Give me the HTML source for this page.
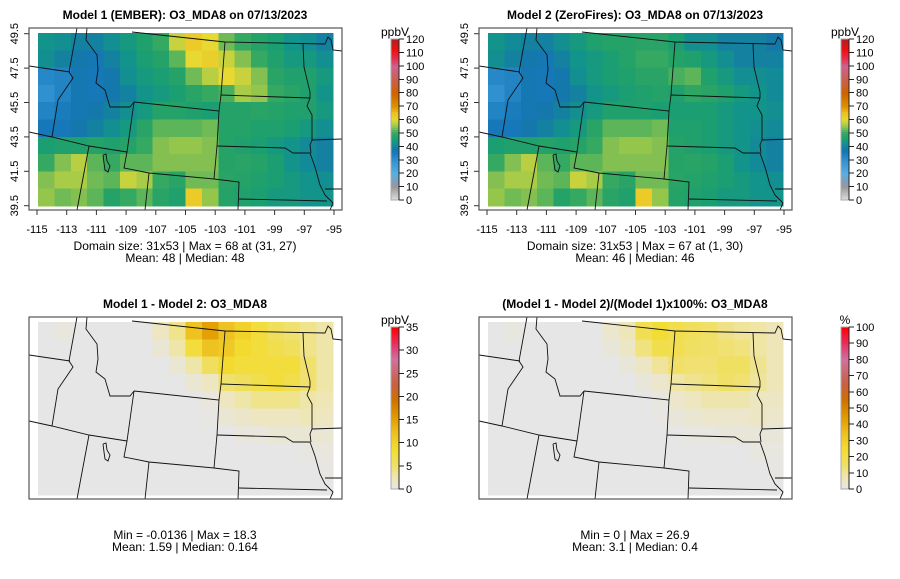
<!DOCTYPE html>
<html><head><meta charset="utf-8">
<style>
body{margin:0;background:#fff;}
svg{display:block;font-family:"Liberation Sans",Arial,sans-serif;}
.t{font-weight:bold;font-size:12px;text-anchor:middle;}
.lab{font-size:11px;}
.st{font-size:12px;text-anchor:middle;}
</style></head>
<body>
<svg id="fig" width="900" height="579" viewBox="0 0 900 579" xmlns="http://www.w3.org/2000/svg"></svg>
<script>
// ---- data (10 rows: lat 49.5 -> 39.5, 18 cols: lon -115 -> -95) ----
const lonTicks = [-115,-113,-111,-109,-107,-105,-103,-101,-99,-97,-95];
const latTicks = [49.5,47.5,45.5,43.5,41.5,39.5];
const ppbTicks = [0,10,20,30,40,50,60,70,80,90,100,110,120];
const diffTicks = [0,5,10,15,20,25,30,35];
const pctTicks = [0,10,20,30,40,50,60,70,80,90,100];
const model1 = [
[43,42,40,40,42,44,46,50,58,63,60,53,50,47,45,43,42,40],
[42,40,38,37,40,43,45,47,52,60,62,58,54,50,46,44,44,42],
[32,33,37,36,38,42,44,45,47,53,57,60,58,54,48,46,46,44],
[30,33,37,36,38,40,43,44,45,48,50,51,56,55,50,48,46,43],
[33,35,37,38,40,42,44,47,47,46,45,47,47,48,47,46,46,44],
[36,36,38,40,42,44,48,52,52,52,53,47,47,46,46,45,44,42],
[45,46,46,47,46,47,50,54,55,55,54,47,46,45,44,43,41,40],
[50,54,57,52,50,52,52,54,54,54,54,47,48,47,45,43,41,40],
[54,56,56,53,52,58,56,50,48,53,53,48,47,46,45,44,43,42],
[55,53,54,52,47,50,52,48,46,63,55,47,46,45,44,44,43,43]];
const model2 = [
[43,41,40,40,42,44,46,47,47,48,48,45,42,42,40,40,40,39],
[42,40,38,37,40,43,44,45,47,50,50,47,46,44,42,40,40,40],
[32,33,37,36,38,42,44,45,46,48,48,51,52,46,44,42,42,41],
[30,33,37,36,38,40,43,44,45,46,47,46,49,48,46,44,43,41],
[33,35,37,38,40,42,44,46,46,46,45,45,45,45,44,43,43,42],
[36,36,38,40,42,44,48,52,52,52,53,46,46,45,44,43,42,41],
[45,46,46,47,46,47,50,54,55,55,54,47,46,45,44,43,41,40],
[50,54,57,52,50,52,52,54,54,54,54,47,48,47,45,43,41,40],
[54,56,56,53,52,58,56,50,48,53,53,48,47,46,45,44,43,42],
[55,53,54,52,47,50,52,48,46,63,55,47,46,45,44,44,43,43]];
const diff = [
[0,0.5,0,0,0,0,0,2,4,12,15,12,10,8,6,5,4,3],
[0,0,0,0,0,0,0,1,3,8,12,11,9,8,7,6,4,3],
[0,0,0,0,0,0,0,0,1,3,6,9,8,8,8,8,5,3],
[0,0,0,0,0,0,0,0,0,1,2,5,6,7,8,7,5,3],
[0,0,0,0,0,0,0,0,0,0,0.5,2,3,4,4,4,3,2.5],
[0,0,0,0,0,0,0,0,0,0,0.2,1,1.5,2,2,2,2.5,2],
[0,0,0,0,0,0,0,0,0,0,0,0,0.5,0.5,1,1,1,1],
[0,0,0,0,0,0,0,0,0,0,0,0,0,0,0,0,0.3,0.5],
[0,0,0,0,0,0,0,0,0,0,0,0,0,0,0,0,0,0.2],
[0,0,0,0,0,0,0,0,0,0,0,0,0,0,0,0,0,0]];
const pct = [
[0,1,0,0,0,0,0,4,7,19,24,20,17,15,12,10,9,7],
[0,0,0,0,0,0,0,2,5,13,20,19,16,15,14,13,9,7],
[0,0,0,0,0,0,0,0,2,5,10,15,14,14,16,16,11,7],
[0,0,0,0,0,0,0,0,0,2,4,9,11,13,15,14,10,7],
[0,0,0,0,0,0,0,0,0,0,1,4,6,8,8,8,6,5],
[0,0,0,0,0,0,0,0,0,0,0.5,2,3,4,4,4,5,4],
[0,0,0,0,0,0,0,0,0,0,0,0,1,1,2,2,2,2],
[0,0,0,0,0,0,0,0,0,0,0,0,0,0,0,0,1,1],
[0,0,0,0,0,0,0,0,0,0,0,0,0,0,0,0,0,0.5],
[0,0,0,0,0,0,0,0,0,0,0,0,0,0,0,0,0,0]];

const NS='http://www.w3.org/2000/svg';
const svg=document.getElementById('fig');
function mk(tag,attrs,parent){const e=document.createElementNS(NS,tag);for(const k in attrs)e.setAttribute(k,attrs[k]);(parent||svg).appendChild(e);return e;}
function hex(h){return [parseInt(h.substr(1,2),16),parseInt(h.substr(3,2),16),parseInt(h.substr(5,2),16)];}
function interp(stops,f){f=Math.max(0,Math.min(1,f));for(let i=1;i<stops.length;i++){if(f<=stops[i][0]){const a=stops[i-1],b=stops[i];const t=(f-a[0])/(b[0]-a[0]||1);const c1=hex(a[1]),c2=hex(b[1]);return 'rgb('+c1.map((v,j)=>Math.round(v+(c2[j]-v)*t)).join(',')+')';}}return stops[stops.length-1][1];}
const ppbStops=[[0,'#e0e0e0'],[10/120,'#999999'],[12/120,'#8a9aaa'],[20/120,'#5aaee0'],[30/120,'#3090d0'],[36/120,'#1678b8'],[39/120,'#1478a8'],[41/120,'#138a98'],[43/120,'#12948a'],[45/120,'#1a9e72'],[47/120,'#25a268'],[50/120,'#35a862'],[53/120,'#70bb55'],[56/120,'#a8cb48'],[60/120,'#e8d832'],[65/120,'#eec020'],[70/120,'#e09000'],[80/120,'#d06000'],[90/120,'#c86050'],[100/120,'#d06090'],[105/120,'#e83050'],[112/120,'#f01010'],[1,'#b02020']];
const diffStops=[[0,'#e6e6e6'],[0.07,'#eee6b8'],[0.15,'#f0e068'],[0.25,'#f2dc30'],[0.35,'#eec020'],[0.45,'#e09800'],[0.55,'#d07000'],[0.65,'#c86040'],[0.8,'#d070a0'],[0.9,'#e83060'],[1,'#ff0000']];

// geometry (panel-local; panel 1 origin)
const X0=38,X1=333,Y0=33,Y1=206;
function xcol(c){return X0+(X1-X0)*c/18;}
function yrow(r){return Y0+(Y1-Y0)*r/10;}
function xlon(l){return 37+(l+115)*(334-37)/20;}
function ylat(l){return 33.7+(49.5-l)*(205.7-33.7)/10;}

const borders=[
[[132,32],[225,42],[325,44],[328,37],[331,40],[333,50],[342,51]],
[[77,28],[69,72],[73,78],[58,100],[52,137]],
[[29,66],[70,72]],
[[87,28],[86,40],[97,55],[98,70],[96,83],[105,90],[110,107],[130,107],[134,102]],
[[29,132],[52,137],[89,146],[127,152]],
[[89,146],[77,210]],
[[134,102],[219,111],[217,146],[214,179],[149,173],[124,168],[127,152],[134,102]],
[[225,42],[221,95],[219,111]],
[[221,95],[310,98]],
[[303,44],[304,67],[310,92],[310,98],[307,106],[312,115],[312,140],[310,145],[311,153]],
[[217,146],[285,148],[293,153],[310,153]],
[[310,153],[315,167],[320,185],[325,195],[333,203],[330,210]],
[[312,140],[342,139]],[[325,189],[342,189]],
[[214,179],[239,182],[238,210]],
[[239,199],[327,201]],
[[149,173],[145,210]],
[[103,155],[106,154],[107,161],[110,166],[108,172],[105,170],[104,163],[103,155]]
];

function panel(name,ox,oy,grid,stops,vmax,title,unit,ticks,axes,l1,l2,cbTop,cbBot){
  const g=mk('g',{transform:'translate('+ox+','+oy+')'});
  
  
  const t=mk('text',{x:185,y:19,class:'t'},g);t.textContent=title;
  
  
  const cells=mk('g',{'shape-rendering':'crispEdges'},g);
  
  
  for(let r=0;r<grid.length;r++)for(let c=0;c<grid[r].length;c++){
    const rc=mk('rect',{x:xcol(c),y:yrow(r),width:xcol(c+1)-xcol(c)+0.5,height:yrow(r+1)-yrow(r)+0.5,fill:interp(stops,grid[r][c]/vmax)},cells);
    
    
  }
  mk('clipPath',{id:'cp'+name},g);
  const cp=g.lastChild;mk('rect',{x:29,y:28,width:313,height:182},cp);
  const bg=mk('g',{'clip-path':'url(#cp'+name+')',fill:'none',stroke:'#111','stroke-width':0.9},g);
  
  
  borders.forEach(b=>{const p=mk('polyline',{points:b.map(q=>q.join(',')).join(' ')},bg);});
  const box=mk('rect',{x:29,y:28,width:313,height:182,fill:'none',stroke:'#555','stroke-width':1.2},g);
  
  
  if(axes){
    const ax=mk('g',{},g);
    
    
    lonTicks.forEach(l=>{const x=xlon(l);mk('line',{x1:x,x2:x,y1:210,y2:215,stroke:'#333'},ax);
      const tx=mk('text',{x:x,y:233,class:'lab','text-anchor':'middle'},ax);tx.textContent=l;
      });
    const ay=mk('g',{},g);
    
    
    latTicks.forEach(l=>{const y=ylat(l);mk('line',{x1:24,x2:29,y1:y,y2:y,stroke:'#333'},ay);
      const ty=mk('text',{x:0,y:0,class:'lab','text-anchor':'middle',transform:'translate(18,'+y+') rotate(-90)'},ay);ty.textContent=l.toFixed(1);
      });
  }
  const s1=mk('text',{x:185,y:250,class:'st'},g);s1.textContent=l1;
  
  const s2=mk('text',{x:185,y:262,class:'st'},g);s2.textContent=l2;
  
  // colorbar
  const cb=mk('g',{'shape-rendering':'crispEdges'},g);
  
  
  const N=80;
  for(let i=0;i<N;i++){const y=cbBot-(cbBot-cbTop)*(i+1)/N;mk('rect',{x:391,y:y,width:8,height:(cbBot-cbTop)/N+0.6,fill:interp(stops,(i+0.5)/N)},cb);}
  mk('rect',{x:391,y:cbTop,width:8,height:cbBot-cbTop,fill:'none',stroke:'#aaa','stroke-width':0.6},cb);
  mk('line',{x1:399,x2:399,y1:cbTop,y2:cbBot,stroke:'#222'},cb);
  ticks.forEach(v=>{const y=cbBot-(cbBot-cbTop)*v/vmax;mk('line',{x1:399,x2:404,y1:y,y2:y,stroke:'#222'},cb);
    const tl=mk('text',{x:406,y:y+4,class:'lab'},cb);tl.textContent=v;
    });
  const u=mk('text',{x:395,y:cbTop-3,'font-size':'12px','text-anchor':'middle'},g);u.textContent=unit;
  
}
panel('panel-model1',0,0,model1,ppbStops,120,'Model 1 (EMBER): O3_MDA8 on 07/13/2023','ppbV',ppbTicks,true,'Domain size: 31x53 | Max = 68 at (31, 27)','Mean: 48 |  Median: 48',39,200);
panel('panel-model2',450,0,model2,ppbStops,120,'Model 2 (ZeroFires): O3_MDA8 on 07/13/2023','ppbV',ppbTicks,true,'Domain size: 31x53 | Max = 67 at (1, 30)','Mean: 46 |  Median: 46',39,200);
panel('panel-diff',0,289,diff,diffStops,35,'Model 1 - Model 2: O3_MDA8','ppbV',diffTicks,false,'Min = -0.0136 | Max = 18.3','Mean: 1.59 |  Median: 0.164',38,200);
panel('panel-pct',450,289,pct,diffStops,100,'(Model 1 - Model 2)/(Model 1)x100%: O3_MDA8','%',pctTicks,false,'Min = 0 | Max = 26.9','Mean: 3.1 |  Median: 0.4',38,200);
</script>
</body></html>
